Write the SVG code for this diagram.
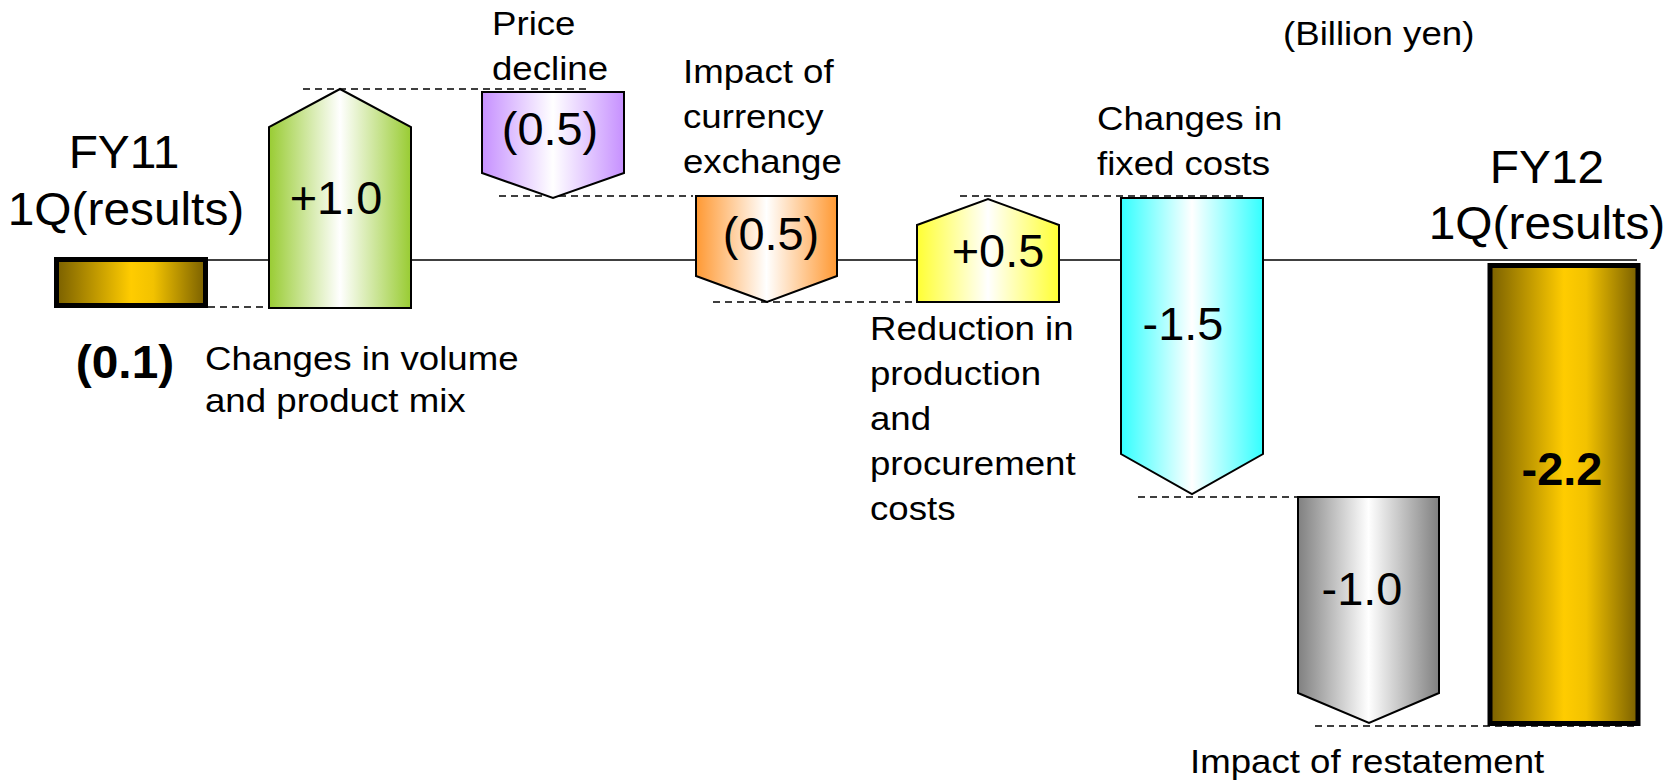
<svg xmlns="http://www.w3.org/2000/svg" width="1677" height="782" viewBox="0 0 1677 782">
<defs>
<linearGradient id="gGold" x1="0" y1="0" x2="1" y2="0">
<stop offset="0" stop-color="#7a6000"/><stop offset="0.5" stop-color="#ffcc00"/><stop offset="0.65" stop-color="#f2c200"/><stop offset="1" stop-color="#7a6000"/>
</linearGradient>
<linearGradient id="gGreen" x1="0" y1="0" x2="1" y2="0">
<stop offset="0" stop-color="#99cc33"/><stop offset="0.5" stop-color="#ffffff"/><stop offset="1" stop-color="#99cc33"/>
</linearGradient>
<linearGradient id="gPurple" x1="0" y1="0" x2="1" y2="0">
<stop offset="0" stop-color="#c690ff"/><stop offset="0.5" stop-color="#ffffff"/><stop offset="1" stop-color="#c690ff"/>
</linearGradient>
<linearGradient id="gOrange" x1="0" y1="0" x2="1" y2="0">
<stop offset="0" stop-color="#ff9933"/><stop offset="0.5" stop-color="#ffffff"/><stop offset="1" stop-color="#ff9933"/>
</linearGradient>
<linearGradient id="gYellow" x1="0" y1="0" x2="1" y2="0">
<stop offset="0" stop-color="#ffff33"/><stop offset="0.5" stop-color="#ffffff"/><stop offset="1" stop-color="#ffff33"/>
</linearGradient>
<linearGradient id="gCyan" x1="0" y1="0" x2="1" y2="0">
<stop offset="0" stop-color="#33ffff"/><stop offset="0.5" stop-color="#ffffff"/><stop offset="1" stop-color="#33ffff"/>
</linearGradient>
<linearGradient id="gGrey" x1="0" y1="0" x2="1" y2="0">
<stop offset="0" stop-color="#808080"/><stop offset="0.5" stop-color="#ffffff"/><stop offset="1" stop-color="#808080"/>
</linearGradient>
</defs>
<style>
.t{font-family:"Liberation Sans",Arial,sans-serif;fill:#000}
.big{font-size:46px}
.sm{font-size:33px}
.b{font-weight:bold}
.m{text-anchor:middle}
.dash{stroke:#000;stroke-width:1.5;stroke-dasharray:7,5;fill:none}
.shape{stroke:#000;stroke-width:2;stroke-linejoin:miter}
.bar{stroke:#000;stroke-width:5}
</style>
<rect width="1677" height="782" fill="#fff"/>
<g id="connectors">
<line x1="208" y1="260" x2="1637" y2="260" stroke="#000" stroke-width="1.5"/>
<line class="dash" x1="208" y1="307" x2="322" y2="307"/>
<line class="dash" x1="303" y1="89" x2="590" y2="89"/>
<line class="dash" x1="499" y1="196" x2="693" y2="196"/>
<line class="dash" x1="713" y1="302" x2="997" y2="302"/>
<line class="dash" x1="960" y1="196" x2="1247" y2="196"/>
<line class="dash" x1="1138" y1="497" x2="1350" y2="497"/>
<line class="dash" x1="1315" y1="726" x2="1637" y2="726"/>
</g>
<g id="fy11">
<rect class="bar" x="56.5" y="259.5" width="149" height="46" fill="url(#gGold)"/>
<text class="t big m" transform="translate(124,168) scale(1.04,1)">FY11</text>
<text class="t big m" transform="translate(126,225) scale(1.04,1)">1Q(results)</text>
<text class="t big b m" transform="translate(125,378) scale(1.04,1)">(0.1)</text>
</g>
<g id="volume">
<polygon class="shape" points="269,308 269,127 340,89 411,127 411,308" fill="url(#gGreen)"/>
<text class="t big m" transform="translate(336,214) scale(1.02,1)">+1.0</text>
<text class="t sm" transform="translate(205,370) scale(1.11,1)">Changes in volume</text>
<text class="t sm" transform="translate(205,412) scale(1.11,1)">and product mix</text>
</g>
<g id="price">
<polygon class="shape" points="482,92 624,92 624,173 553,198 482,173" fill="url(#gPurple)"/>
<text class="t big m" transform="translate(550,145) scale(1.02,1)">(0.5)</text>
<text class="t sm" transform="translate(492,35) scale(1.11,1)">Price</text>
<text class="t sm" transform="translate(492,80) scale(1.11,1)">decline</text>
</g>
<g id="currency">
<polygon class="shape" points="696,196 837,196 837,276 767,302 696,276" fill="url(#gOrange)"/>
<text class="t big m" transform="translate(771,250) scale(1.02,1)">(0.5)</text>
<text class="t sm" transform="translate(683,83) scale(1.11,1)">Impact of</text>
<text class="t sm" transform="translate(683,128) scale(1.11,1)">currency</text>
<text class="t sm" transform="translate(683,173) scale(1.11,1)">exchange</text>
</g>
<g id="reduction">
<polygon class="shape" points="917,302 917,225 988,199 1059,225 1059,302" fill="url(#gYellow)"/>
<text class="t big m" transform="translate(998,267) scale(1.02,1)">+0.5</text>
<text class="t sm" transform="translate(870,340) scale(1.11,1)">Reduction in</text>
<text class="t sm" transform="translate(870,385) scale(1.11,1)">production</text>
<text class="t sm" transform="translate(870,430) scale(1.11,1)">and</text>
<text class="t sm" transform="translate(870,475) scale(1.11,1)">procurement</text>
<text class="t sm" transform="translate(870,520) scale(1.11,1)">costs</text>
</g>
<g id="fixed">
<polygon class="shape" points="1121,198 1263,198 1263,454 1192,494 1121,454" fill="url(#gCyan)"/>
<text class="t big m" transform="translate(1183,340) scale(1.02,1)">-1.5</text>
<text class="t sm" transform="translate(1097,130) scale(1.11,1)">Changes in</text>
<text class="t sm" transform="translate(1097,175) scale(1.11,1)">fixed costs</text>
</g>
<g id="restatement">
<polygon class="shape" points="1298,497 1439,497 1439,693 1369,723 1298,693" fill="url(#gGrey)"/>
<text class="t big m" transform="translate(1362,605) scale(1.02,1)">-1.0</text>
<text class="t sm" transform="translate(1190,773) scale(1.11,1)">Impact of restatement</text>
</g>
<g id="fy12">
<rect class="bar" x="1490" y="265.5" width="148" height="458" fill="url(#gGold)"/>
<text class="t big b m" transform="translate(1562,485) scale(1.02,1)">-2.2</text>
<text class="t big m" transform="translate(1547,183) scale(1.04,1)">FY12</text>
<text class="t big m" transform="translate(1547,239) scale(1.04,1)">1Q(results)</text>
</g>
<g id="unit">
<text class="t sm" transform="translate(1283,45) scale(1.11,1)">(Billion yen)</text>
</g>
</svg>
